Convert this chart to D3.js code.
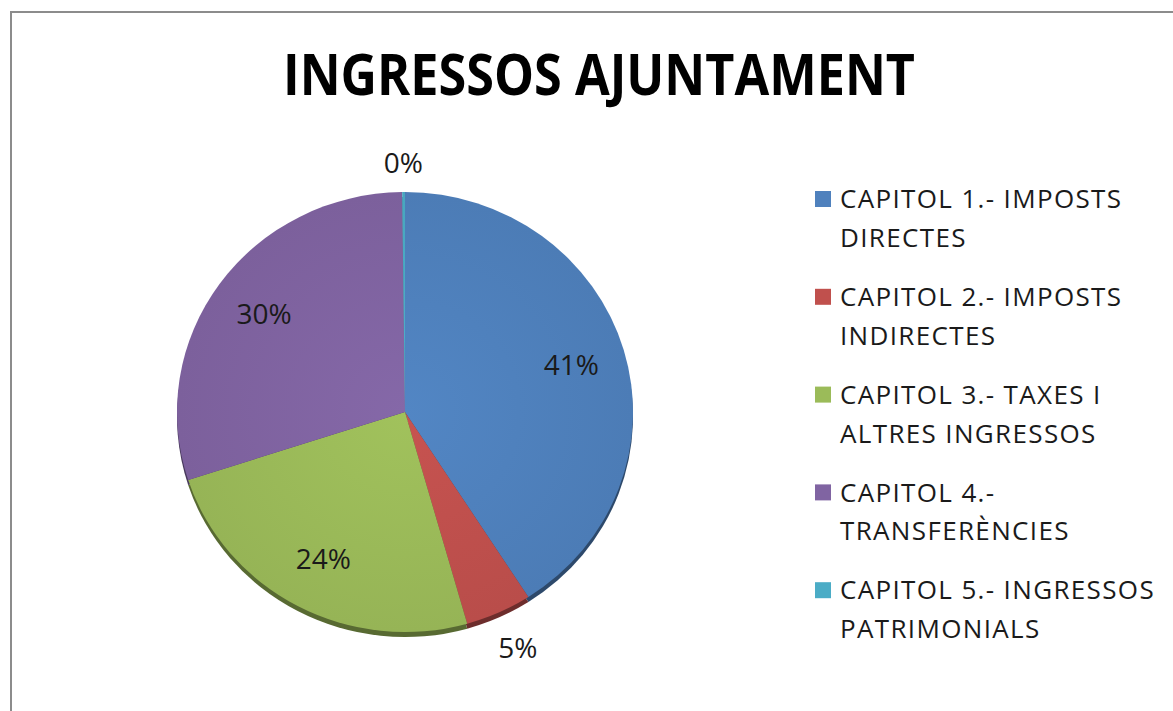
<!DOCTYPE html>
<html>
<head>
<meta charset="utf-8">
<script src="https://cdn.jsdelivr.net/npm/d3@7"></script>
<style>
  body { margin: 0; background: #fff; }
  svg text { font-family: "Open Sans", "DejaVu Sans", sans-serif; }
</style>
</head>
<body>
<svg id="chart" width="1173" height="711"></svg>
<script>
// dades del gràfic
var title = "INGRESSOS AJUNTAMENT";
var categories = [
    "CAPITOL 1.- IMPOSTS DIRECTES",
    "CAPITOL 2.- IMPOSTS INDIRECTES",
    "CAPITOL 3.- TAXES I ALTRES INGRESSOS",
    "CAPITOL 4.- TRANSFERÈNCIES",
    "CAPITOL 5.- INGRESSOS PATRIMONIALS"
];
var legendLines = [
    ["CAPITOL 1.- IMPOSTS", "DIRECTES"],
    ["CAPITOL 2.- IMPOSTS", "INDIRECTES"],
    ["CAPITOL 3.- TAXES I", "ALTRES INGRESSOS"],
    ["CAPITOL 4.-", "TRANSFERÈNCIES"],
    ["CAPITOL 5.- INGRESSOS", "PATRIMONIALS"]
];
var values = [40.9, 4.7, 24.4, 29.8, 0.2];
var colors = ["#4f81bd", "#c0504d", "#9bbb59", "#8064a2", "#4bacc6"];

var svg = d3.select("#chart");

// marc
svg.append("rect")
    .attr("x", 11).attr("y", 12)
    .attr("width", 1200).attr("height", 750)
    .attr("fill", "none")
    .attr("stroke", "#8c8c8c")
    .attr("stroke-width", 2);

// títol
svg.append("text")
    .attr("x", 599).attr("y", 95)
    .attr("text-anchor", "middle")
    .attr("font-size", 58)
    .attr("font-weight", "bold")
    .attr("textLength", 632)
    .attr("lengthAdjust", "spacingAndGlyphs")
    .attr("fill", "#000")
    .text(title);

var cx = 405, cy = 412, R = 228, squash = 0.965, depth = 5;

var pie = d3.pie().sort(null).value(function(d) { return d; });
var arcs = pie(values);
var arc = d3.arc().innerRadius(0).outerRadius(R);

var defs = svg.append("defs");
colors.forEach(function(c, i) {
    var g = defs.append("radialGradient")
        .attr("id", "grad" + i)
        .attr("gradientUnits", "userSpaceOnUse")
        .attr("cx", 0).attr("cy", 0).attr("r", R);
    g.append("stop").attr("offset", "0%").attr("stop-color", d3.color(c).brighter(0.1));
    g.append("stop").attr("offset", "100%").attr("stop-color", d3.color(c).darker(0.1));
});

// gruix 3D (part inferior)
var baseLayer = svg.append("g")
    .attr("transform", "translate(" + cx + "," + (cy + depth) + ") scale(1," + squash + ")");
baseLayer.selectAll("path")
    .data(arcs)
    .enter().append("path")
    .attr("d", arc)
    .attr("fill", function(d, i) { return d3.color(colors[i]).darker(1.6); });

var pieLayer = svg.append("g")
    .attr("transform", "translate(" + cx + "," + cy + ") scale(1," + squash + ")");
pieLayer.selectAll("path")
    .data(arcs)
    .enter().append("path")
    .attr("d", arc)
    .attr("fill", function(d, i) { return "url(#grad" + i + ")"; });

// etiquetes de percentatge
function labelPos(d) {
    var a = (d.startAngle + d.endAngle) / 2;
    var share = (d.endAngle - d.startAngle) / (2 * Math.PI);
    var s = Math.sin(a), c = Math.cos(a);
    if (share < 0.08) {
        // fora del pastís, caixa enganxada a la vora
        var r = R + 18;
        return [cx + r * s + s * 28, cy + 5 - r * c * squash - c * 16];
    }
    var ri = R * 0.76;
    return [cx + ri * s, cy - ri * c * squash];
}

svg.append("g").selectAll("text")
    .data(arcs)
    .enter().append("text")
    .attr("x", function(d) { return labelPos(d)[0]; })
    .attr("y", function(d) { return labelPos(d)[1]; })
    .attr("dy", "0.35em")
    .attr("text-anchor", "middle")
    .attr("font-size", 28)
    .attr("fill", "#1a1a1a")
    .text(function(d) {
        var total = d3.sum(values);
        return Math.round(d.value / total * 100) + "%";
    });

// llegenda
var legend = svg.append("g");
var item = legend.selectAll("g")
    .data(categories)
    .enter().append("g")
    .attr("transform", function(d, i) { return "translate(815," + (199 + i * 97.8) + ")"; });

item.append("rect")
    .attr("x", 0).attr("y", -8)
    .attr("width", 16).attr("height", 16)
    .attr("fill", function(d, i) { return colors[i]; });

item.each(function(d, i) {
    var t = d3.select(this).append("text")
        .attr("x", 25)
        .attr("font-size", 26)
        .attr("letter-spacing", 1.35)
        .attr("fill", "#1a1a1a");
    legendLines[i].forEach(function(line, j) {
        t.append("tspan")
            .attr("x", 25)
            .attr("y", j * 39)
            .attr("dy", "0.35em")
            .text(line);
    });
});
</script>
</body>
</html>
